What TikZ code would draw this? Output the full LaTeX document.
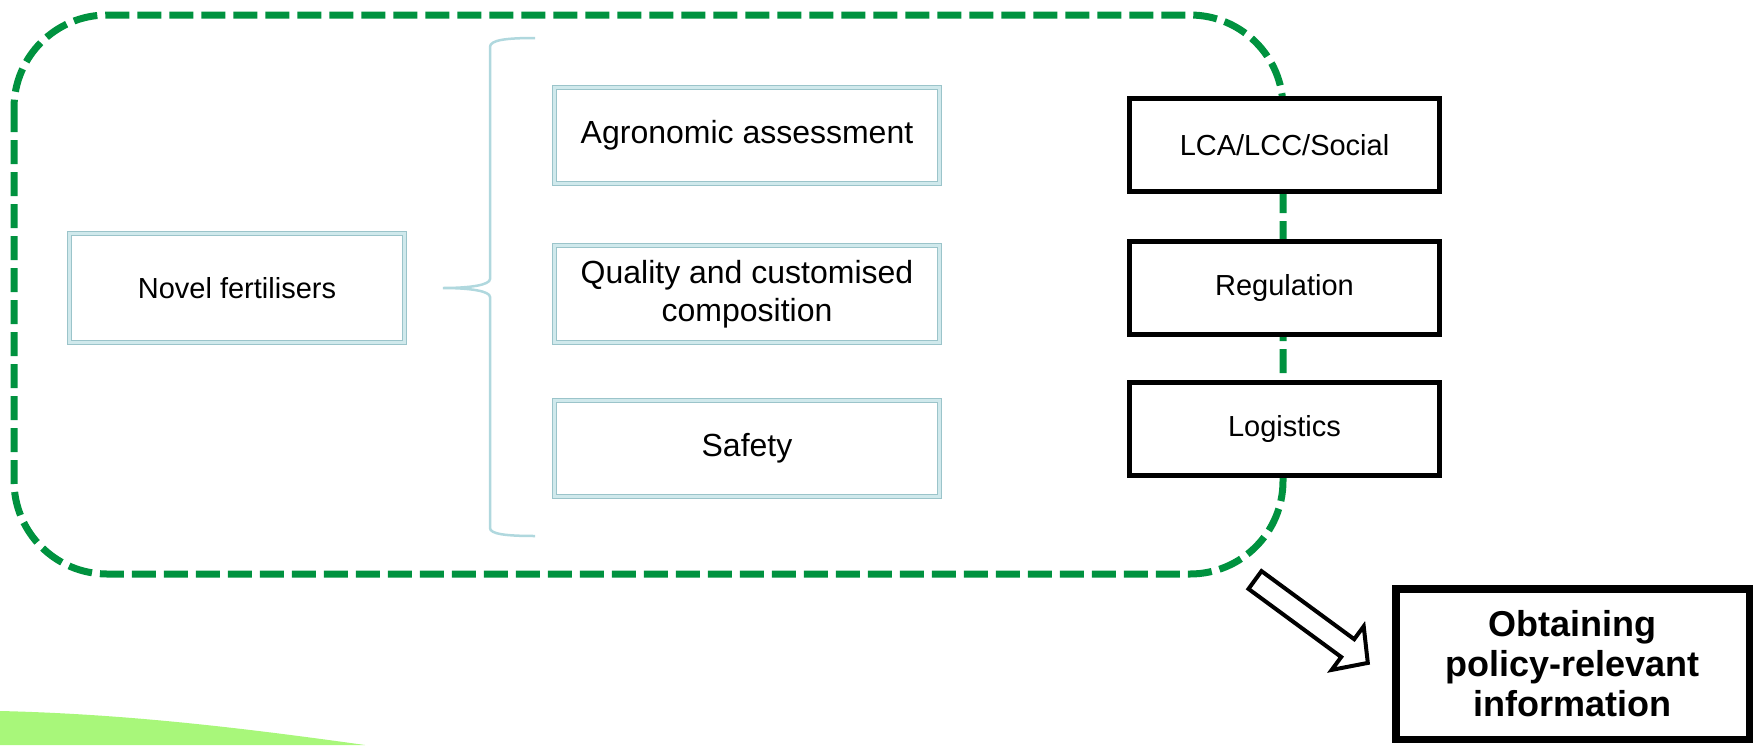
\documentclass[tikz,border=0pt]{standalone}
\usepackage{fontspec}
\setmainfont{Liberation Sans}
\definecolor{dashgreen}{RGB}{0,146,63}
\definecolor{boxblue}{RGB}{155,196,202}
\definecolor{boxblueinner}{RGB}{208,233,236}
\definecolor{bracecol}{RGB}{176,216,222}
\definecolor{swoosh}{RGB}{168,247,122}
\tikzset{
  dblbox/.style={draw=boxblue, double=boxblueinner, line width=1.6pt, double distance=2.2pt,
    fill=white, align=center, inner sep=0pt},
  midtext/.style={font=\fontsize{32}{38.5}\selectfont},
  smalltext/.style={font=\fontsize{29}{35}\selectfont},
  blkbox/.style={draw=black, line width=5pt, fill=white, align=center, inner sep=0pt,
    minimum width=310pt, minimum height=93pt, font=\fontsize{29}{35}\selectfont},
  groupline/.style={draw=dashgreen, line width=7pt, dash pattern=on 24pt off 8pt},
  bracestyle/.style={draw=bracecol, line width=2.5pt},
  blockarrow/.style={draw=black, line width=4pt, fill=white, line join=miter},
}
\begin{document}
\begin{tikzpicture}[x=1pt,y=-1pt]
\useasboundingbox (0,0) rectangle (1759,745);
% background swoosh
\fill[swoosh] (0,711) .. controls (130,714) and (250,729) .. (365,745) -- (0,745) -- cycle;
% dashed group outline
\draw[groupline, rounded corners=93pt] (14,15) rectangle (1283,574);
% left box
\node[dblbox, smalltext, minimum width=335pt, minimum height=109pt] (nov) at (237,288) {Novel fertilisers};
% middle boxes
\node[dblbox, midtext, minimum width=385pt, minimum height=96pt] (agr) at (747,135.5) {Agronomic assessment};
\node[dblbox, midtext, minimum width=385pt, minimum height=97pt] (qual) at (747,294) {Quality and customised\\composition};
\node[dblbox, midtext, minimum width=385pt, minimum height=96pt] (saf) at (747,448.5) {Safety};
% brace
\coordinate (btip) at (443,288);
\draw[bracestyle] (535,38) .. controls (506,38) and (490,40) .. (490,47) -- (490,279)
  .. controls (490,285) and (470,288) .. (btip)
  .. controls (470,288) and (490,291) .. (490,297) -- (490,528)
  .. controls (490,534) and (506,536) .. (535,536);
% right boxes
\node[blkbox] (lca) at (1284.5,145) {LCA/LCC/Social};
\node[blkbox] (reg) at (1284.5,288) {Regulation};
\node[blkbox] (log) at (1284.5,429) {Logistics};
% output box
\node[draw=black, line width=7.5pt, fill=white, align=center, inner sep=0pt,
  minimum width=353.5pt, minimum height=150.5pt,
  font=\fontsize{36}{40}\selectfont\bfseries] (obt) at (1572.5,664)
  {Obtaining\\policy-relevant\\information};
% block arrow
\draw[blockarrow] (1261.5,571.1) -- (1354.2,639.2) -- (1363.7,626.3) -- (1367.8,662.9)
  -- (1331.7,669.9) -- (1341.2,657) -- (1248.5,588.9) -- cycle;
\end{tikzpicture}
\end{document}
